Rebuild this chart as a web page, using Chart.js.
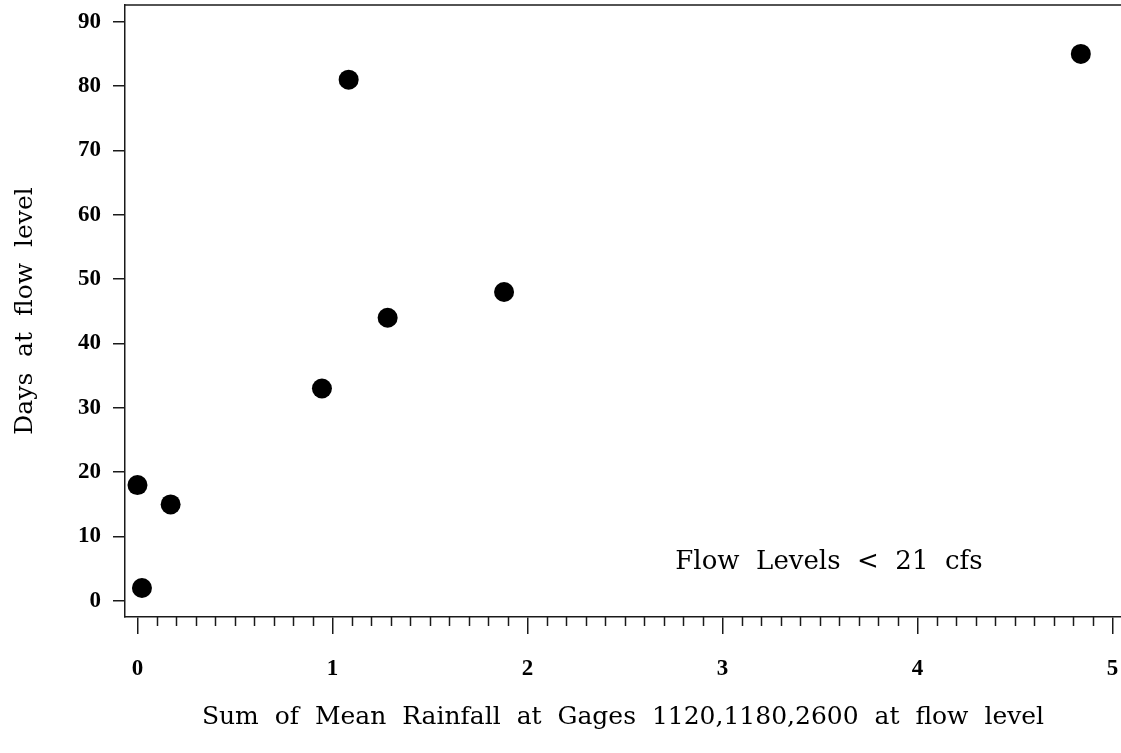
<!DOCTYPE html>
<html><head><meta charset="utf-8">
<script src="https://cdn.jsdelivr.net/npm/chart.js@4.4.0/dist/chart.umd.min.js"></script>
<style>html,body{margin:0;padding:0;background:#fff;overflow:hidden}#wrap{width:1121px;height:753px;position:relative}</style>
</head><body><div id="wrap"><canvas id="c"></canvas></div>
<script>
const rainfall = [0.00, 0.023, 0.17, 0.946, 1.083, 1.283, 1.88, 4.838];
const days = [18, 2, 15, 33, 81, 44, 48, 85];
const xMajorTicks = [0, 1, 2, 3, 4, 5];
const xMinorStep = 0.1;
const yTicks = [0, 10, 20, 30, 40, 50, 60, 70, 80, 90];
const xTitle = 'Sum  of  Mean  Rainfall  at  Gages  1120,1180,2600  at  flow  level';
const yTitle = 'Days  at  flow  level';
const noteText = 'Flow  Levels  <  21  cfs';
const notePos = { x: 3.546, y: 6 };

const INK = '#1a1a1a';
const isMajor = v => xMajorTicks.some(m => Math.abs(m - v) < 1e-6);

const extras = {
  id: 'extras',
  afterDraw(chart) {
    const ctx = chart.ctx, xs = chart.scales.x, ys = chart.scales.y, a = chart.chartArea;
    ctx.save();
    ctx.strokeStyle = INK; ctx.lineWidth = 1.5;
    ctx.beginPath(); ctx.moveTo(a.left, a.top); ctx.lineTo(a.right, a.top); ctx.stroke();
    xs.ticks.forEach(t => {
      if (!isMajor(t.value)) {
        const px = Math.round(xs.getPixelForValue(t.value)) + 0.5;
        ctx.beginPath(); ctx.moveTo(px, a.bottom); ctx.lineTo(px, a.bottom + 9); ctx.stroke();
      }
    });
    ctx.fillStyle = '#000';
    ctx.font = '26px "DejaVu Serif"';
    ctx.textAlign = 'center'; ctx.textBaseline = 'middle';
    ctx.fillText(noteText, xs.getPixelForValue(notePos.x), ys.getPixelForValue(notePos.y));
    ctx.restore();
  }
};

new Chart(document.getElementById('c'), {
  type: 'scatter',
  data: {
    datasets: [{
      data: rainfall.map((x, i) => ({ x, y: days[i] })),
      backgroundColor: '#000', borderWidth: 0, pointRadius: 10, pointHoverRadius: 10
    }]
  },
  options: {
    responsive: true, maintainAspectRatio: false, animation: false,
    devicePixelRatio: 1,
    layout: { autoPadding: false, padding: { top: 5, left: 0, right: 0, bottom: 0 } },
    plugins: { legend: { display: false }, tooltip: { enabled: false } },
    scales: {
      x: {
        type: 'linear', min: -0.064, max: 5.044,
        afterBuildTicks: s => {
          const t = [];
          for (let i = 0; i <= Math.round(xMajorTicks[xMajorTicks.length - 1] / xMinorStep); i++) t.push({ value: +(i * xMinorStep).toFixed(1) });
          s.ticks = t;
        },
        afterFit: s => { s.height = 136; s.paddingLeft = 0; s.paddingRight = 0; },
        grid: { drawOnChartArea: false, tickLength: 17, lineWidth: 1.5,
          color: c => (c.tick && isMajor(c.tick.value)) ? INK : 'rgba(0,0,0,0)' },
        border: { display: true, color: INK, width: 1.5 },
        ticks: {
          autoSkip: false, maxRotation: 0, padding: 21, color: '#000',
          font: { family: '"Liberation Serif"', size: 23, weight: 'bold' },
          callback: v => isMajor(v) ? String(Math.round(v)) : ''
        },
        title: { display: true, text: xTitle, color: '#000',
          font: { family: '"DejaVu Serif"', size: 25 }, padding: { top: 0, bottom: 21 } }
      },
      y: {
        type: 'linear', min: -2.5, max: 92.6,
        afterBuildTicks: s => { s.ticks = yTicks.map(v => ({ value: v })); },
        afterFit: s => { s.width = 125; s.paddingTop = 0; s.paddingBottom = 0; },
        grid: { drawOnChartArea: false, tickLength: 12, lineWidth: 1.5, color: INK },
        border: { display: true, color: INK, width: 1.5 },
        ticks: { padding: 12, color: '#000',
          font: { family: '"Liberation Serif"', size: 23, weight: 'bold' } },
        title: { display: true, text: yTitle, color: '#000',
          font: { family: '"DejaVu Serif"', size: 25 }, padding: { top: 10, bottom: 0 } }
      }
    }
  },
  plugins: [extras]
});
</script></body></html>
